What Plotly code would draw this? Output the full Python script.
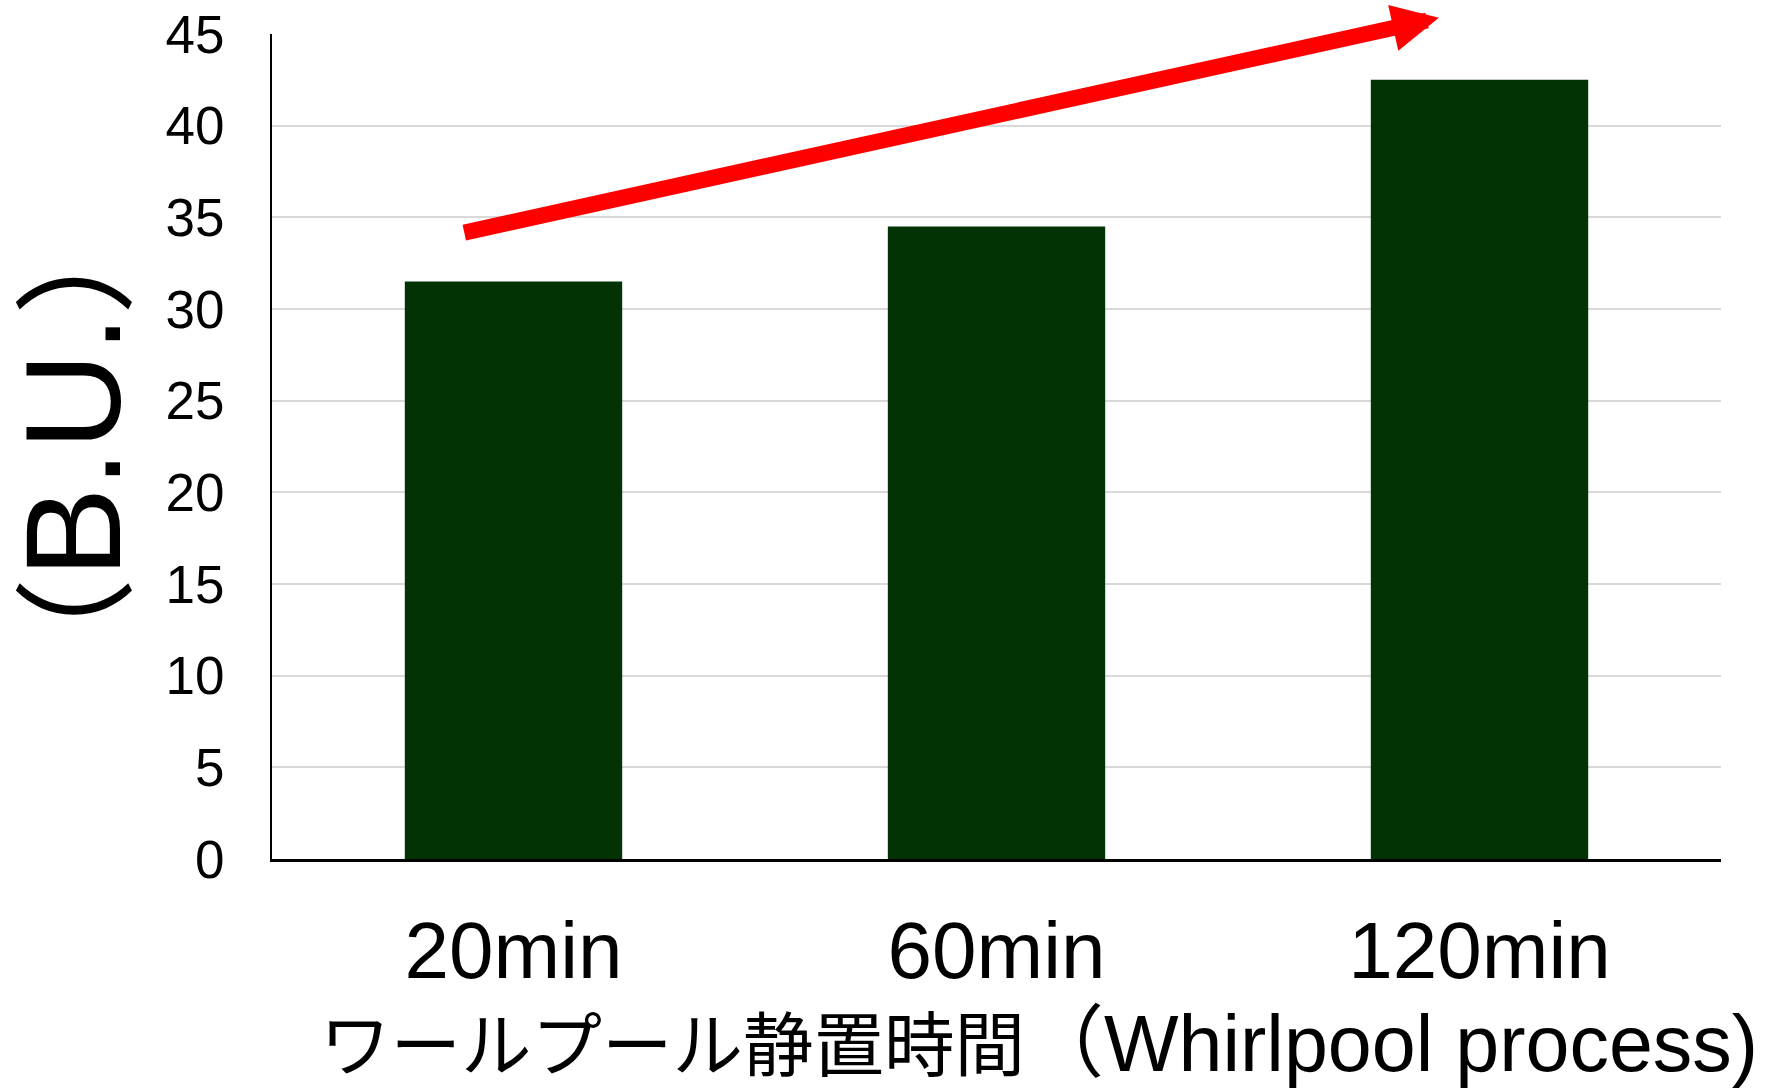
import plotly.graph_objects as go

# Whirlpool rest time vs. bitterness units
categories = ["20min", "60min", "120min"]
bu_values = [31.5, 34.5, 42.5]
y_ticks = [0, 5, 10, 15, 20, 25, 30, 35, 40, 45]

y_title_open, y_title_unit, y_title_close = "（", "B.U.", "）"
x_title_jp = "ワールプール静置時間"
x_title_en = "（Whirlpool process)"

# trend arrow, in axis units (category index, B.U.)
arrow_tail = (-0.105, 34.15)
arrow_tip = (1.916, 45.88)

LATIN = "Liberation Sans, Arial, Noto Sans CJK JP, sans-serif"

fig = go.Figure()
fig.add_trace(go.Bar(
    x=categories,
    y=bu_values,
    marker=dict(color="#033304", line=dict(width=0)),
    width=0.45,
    showlegend=False,
    hoverinfo="x+y",
))

fig.update_layout(
    width=1775,
    height=1089,
    margin=dict(l=272, r=54, t=34, b=230, pad=0, autoexpand=False),
    paper_bgcolor="white",
    plot_bgcolor="white",
    font=dict(family=LATIN, color="black"),
    xaxis=dict(
        type="category",
        range=[-0.5, 2.5],
        automargin=False,
        showline=True,
        linecolor="black",
        linewidth=3,
        showgrid=False,
        ticks="",
        tickfont=dict(size=80, family=LATIN, color="black"),
        ticklabelstandoff=20,
        zeroline=False,
    ),
    yaxis=dict(
        range=[0, 45],
        automargin=False,
        tickvals=y_ticks,
        showline=True,
        linecolor="black",
        linewidth=2,
        showgrid=True,
        gridcolor="#d9d9d9",
        gridwidth=2,
        ticks="",
        tickfont=dict(size=53, family=LATIN, color="black"),
        ticklabelstandoff=35,
        zeroline=False,
    ),
)

# y-axis title, rotated; the brackets a little smaller than the unit
paren = '<span style="font-size:122px">{}</span>'
fig.add_annotation(
    text=paren.format(y_title_open) + y_title_unit + paren.format(y_title_close),
    xref="paper", yref="paper",
    x=(73 - 272) / 1449, y=0.5,
    xanchor="center", yanchor="middle",
    textangle=-90,
    showarrow=False,
    font=dict(size=135, family=LATIN, color="black"),
)

# x-axis title: Japanese part slightly smaller than the Latin part
fig.add_annotation(
    text=f'<span style="font-size:70.5px">{x_title_jp}</span>{x_title_en}',
    xref="paper", yref="paper",
    x=(1039 - 272) / 1449, y=(859 - 1043) / 825,
    xanchor="center", yanchor="middle",
    showarrow=False,
    font=dict(size=79, family=LATIN, color="black"),
)

# red trend arrow
fig.add_annotation(
    x=arrow_tip[0], y=arrow_tip[1],
    ax=arrow_tail[0], ay=arrow_tail[1],
    xref="x", yref="y", axref="x", ayref="y",
    text="",
    showarrow=True,
    arrowhead=2,
    arrowsize=0.585,
    arrowwidth=16,
    arrowcolor="#ff0000",
    standoff=0,
    startstandoff=0,
)

fig.write_html("out.html")
